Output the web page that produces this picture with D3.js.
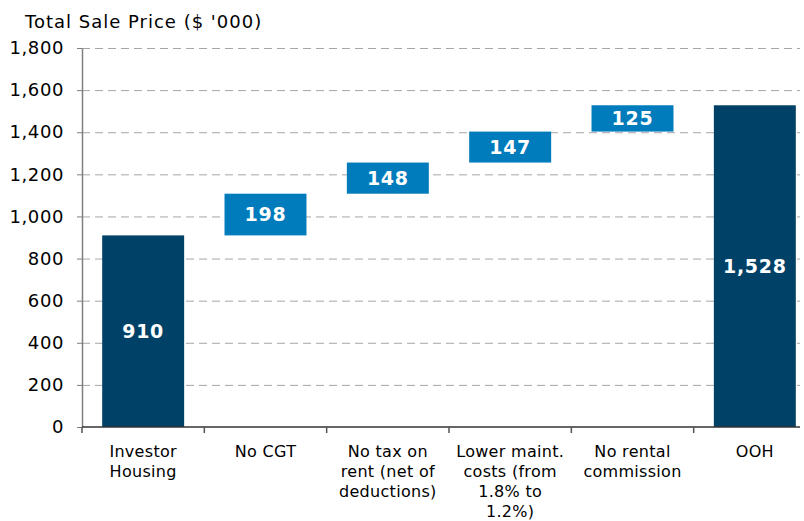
<!DOCTYPE html>
<html>
<head>
<meta charset="utf-8">
<script src="https://cdn.jsdelivr.net/npm/d3@7"></script>
<style>
  body { margin: 0; background: #fff; }
  svg { display: block; font-family: "DejaVu Sans", Verdana, sans-serif; }
</style>
</head>
<body>
<div id="chart"></div>
<script>
// Waterfall data ($ '000)
var categories = ["Investor Housing", "No CGT", "No tax on rent (net of deductions)",
                  "Lower maint. costs (from 1.8% to 1.2%)", "No rental commission", "OOH"];
var labelLines = [["Investor", "Housing"], ["No CGT"], ["No tax on", "rent (net of", "deductions)"],
                  ["Lower maint.", "costs (from", "1.8% to", "1.2%)"], ["No rental", "commission"], ["OOH"]];
var steps = [910, 198, 148, 147, 125, 1528];
var isTotal = [true, false, false, false, false, true];
var yTicks = [0, 200, 400, 600, 800, 1000, 1200, 1400, 1600, 1800];

var width = 804, height = 521;
var margin = { top: 48, left: 82, bottom: 94 };
var plotRight = 816;

var svg = d3.select("#chart").append("svg")
    .attr("width", width)
    .attr("height", height);

var x = d3.scaleBand()
    .domain(categories)
    .range([margin.left, plotRight])
    .paddingInner(0.33)
    .paddingOuter(0.165);

var y = d3.scaleLinear()
    .domain([0, 1800])
    .range([height - margin.bottom, margin.top]);

// build running totals
var bars = [];
var running = 0;
steps.forEach(function(v, i) {
    if (isTotal[i]) {
        bars.push({ cat: categories[i], y0: 0, y1: v, value: v, total: true });
        running = v;
    } else {
        bars.push({ cat: categories[i], y0: running, y1: running + v, value: v, total: false });
        running += v;
    }
});

// gridlines
svg.append("g").selectAll("line")
    .data(yTicks.filter(function(t) { return t > 0; }))
    .enter().append("line")
    .attr("x1", margin.left)
    .attr("x2", 800)
    .attr("y1", function(d) { return y(d) + 0.5; })
    .attr("y2", function(d) { return y(d) + 0.5; })
    .style("stroke", "#a6a6a6")
    .style("stroke-width", 1)
    .style("stroke-dasharray", "8,5");

// bars
svg.append("g").selectAll("rect")
    .data(bars)
    .enter().append("rect")
    .attr("x", function(d) { return x(d.cat); })
    .attr("width", x.bandwidth())
    .attr("y", function(d) { return y(d.y1); })
    .attr("height", function(d) { return y(d.y0) - y(d.y1); })
    .style("fill", function(d) { return d.total ? "#004267" : "#007bbb"; });

// value labels
svg.append("g").selectAll("text")
    .data(bars)
    .enter().append("text")
    .attr("x", function(d) { return x(d.cat) + x.bandwidth() / 2; })
    .attr("y", function(d) { return (y(d.y0) + y(d.y1)) / 2; })
    .attr("dy", "0.36em")
    .attr("text-anchor", "middle")
    .style("fill", "#fff")
    .style("font-weight", "bold")
    .style("font-size", "19px")
    .style("letter-spacing", "0.7px")
    .text(function(d) { return d3.format(",")(d.value); });

// y axis
var yAxis = svg.append("g")
    .attr("transform", "translate(" + margin.left + ",0)")
    .call(d3.axisLeft(y).tickValues(yTicks).tickFormat(d3.format(",")).tickSize(5).tickSizeOuter(0));
yAxis.select(".domain").style("stroke", "#7f7f7f").style("stroke-width", 1.5);
yAxis.selectAll(".tick line").style("stroke", "#7f7f7f");
yAxis.selectAll(".tick text")
    .attr("x", -18)
    .style("font-family", "DejaVu Sans, Verdana, sans-serif")
    .style("font-size", "18px")
    .style("letter-spacing", "0.6px")
    .style("fill", "#000");

// x axis
var xAxis = svg.append("g")
    .attr("transform", "translate(0," + y(0) + ")");
xAxis.append("line")
    .attr("x1", margin.left)
    .attr("x2", 800)
    .style("stroke", "#333")
    .style("stroke-width", 1.5);
var boundaries = categories.map(function(c) { return x(c) - x.step() * x.paddingInner() / 2; });
xAxis.selectAll(".xt")
    .data(boundaries)
    .enter().append("line")
    .attr("class", "xt")
    .attr("x1", function(d) { return d; })
    .attr("x2", function(d) { return d; })
    .attr("y1", 0)
    .attr("y2", 6)
    .style("stroke", "#555")
    .style("stroke-width", 1.5);

var xl = xAxis.selectAll(".xl")
    .data(categories)
    .enter().append("text")
    .attr("class", "xl")
    .attr("text-anchor", "middle")
    .attr("transform", function(d) { return "translate(" + (x(d) + x.bandwidth() / 2) + ",30)"; })
    .style("font-size", "16px")
    .style("letter-spacing", "0.3px")
    .style("fill", "#000");
xl.each(function(d, i) {
    var t = d3.select(this);
    labelLines[i].forEach(function(line, j) {
        t.append("tspan")
            .attr("x", 0)
            .attr("y", j * 20)
            .text(line);
    });
});

// title
svg.append("text")
    .attr("x", 25)
    .attr("y", 28)
    .style("font-size", "18px")
    .style("letter-spacing", "1px")
    .style("fill", "#000")
    .text("Total Sale Price ($ '000)");
</script>
</body>
</html>
